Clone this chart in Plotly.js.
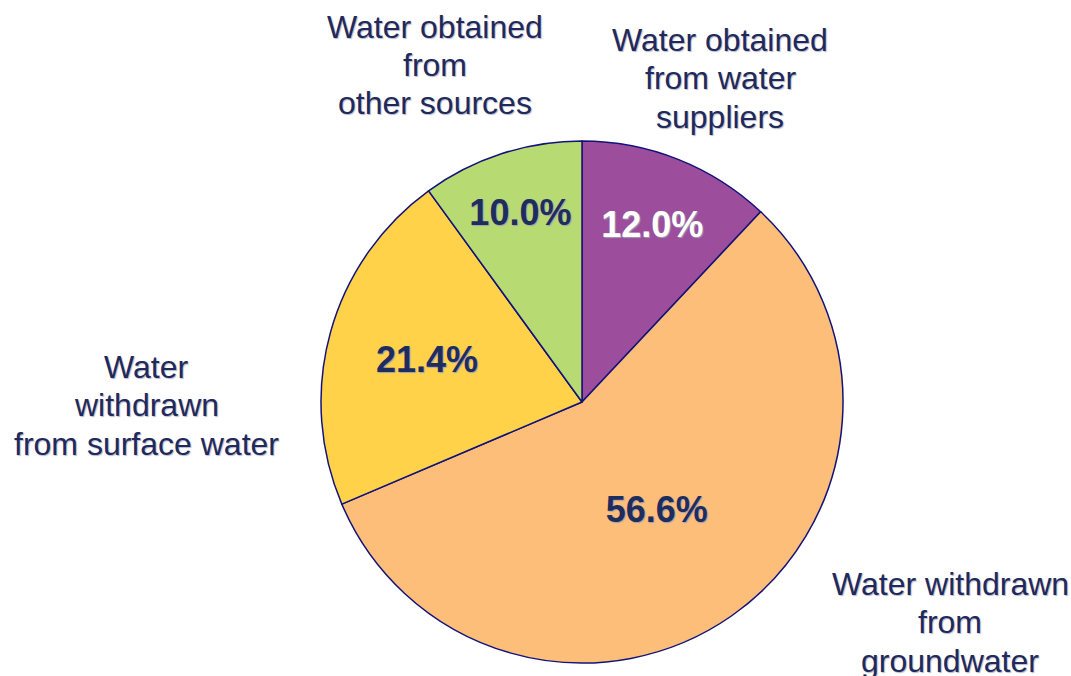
<!DOCTYPE html>
<html>
<head>
<meta charset="utf-8">
<script src="https://cdn.plot.ly/plotly-3.0.1.min.js"></script>
<style>html,body{margin:0;padding:0;background:#fff;}#chart{width:1071px;height:676px;}</style>
</head>
<body>
<div id="chart"></div>
<script>
const categories = [
  "Water obtained from water suppliers",
  "Water withdrawn from groundwater",
  "Water withdrawn from surface water",
  "Water obtained from other sources"
];
const shares = [12.0, 56.6, 21.4, 10.0];
const labelLines = [
  ["Water obtained", "from water", "suppliers"],
  ["Water withdrawn", "from", "groundwater"],
  ["Water", "withdrawn", "from surface water"],
  ["Water obtained", "from", "other sources"]
];
const sliceColors = ["#9C4E9C", "#FDBE7A", "#FFD24A", "#B8DA72"];
const pctColors = ["#FFFFFF", "#1F2D5C", "#1F2D5C", "#1F2D5C"];

const W = 1071, H = 676;
const labelPos = [
  {x: 720, y: 78},
  {x: 950, y: 622},
  {x: 146, y: 405},
  {x: 435, y: 65}
];
const lineStep = 38.5;

const trace = {
  type: "pie",
  labels: categories,
  values: shares,
  sort: false,
  direction: "clockwise",
  rotation: 0,
  marker: {colors: sliceColors, line: {color: "#12127A", width: 1.5}},
  texttemplate: "%{value:.1f}%",
  textposition: "inside",
  insidetextorientation: "horizontal",
  textfont: {family: "Liberation Sans, Arial, sans-serif", size: 36, color: pctColors, weight: "bold", shadow: "1px 1px 1px #A0A0B0"},
  hoverinfo: "label+percent",
  showlegend: false,
  domain: {x: [321 / W, 843 / W], y: [(H - 663) / H, (H - 141) / H]}
};

const annotations = [];
labelLines.forEach((lines, i) => {
  const n = lines.length;
  lines.forEach((line, j) => {
    const cy = labelPos[i].y + (j - (n - 1) / 2) * lineStep;
    annotations.push({
      text: line,
      xref: "paper", yref: "paper",
      x: labelPos[i].x / W, y: 1 - cy / H,
      xanchor: "center", yanchor: "middle",
      showarrow: false,
      font: {family: "Liberation Sans, Arial, sans-serif", size: 32, color: "#1F2A5C", shadow: "1px 1px 1px #B8B8C8"}
    });
  });
});

const layout = {
  width: W, height: H,
  margin: {l: 0, r: 0, t: 0, b: 0},
  paper_bgcolor: "#ffffff",
  uniformtext: {mode: "show", minsize: 36},
  annotations: annotations
};

Plotly.newPlot("chart", [trace], layout, {displayModeBar: false, staticPlot: true});
</script>
</body>
</html>
